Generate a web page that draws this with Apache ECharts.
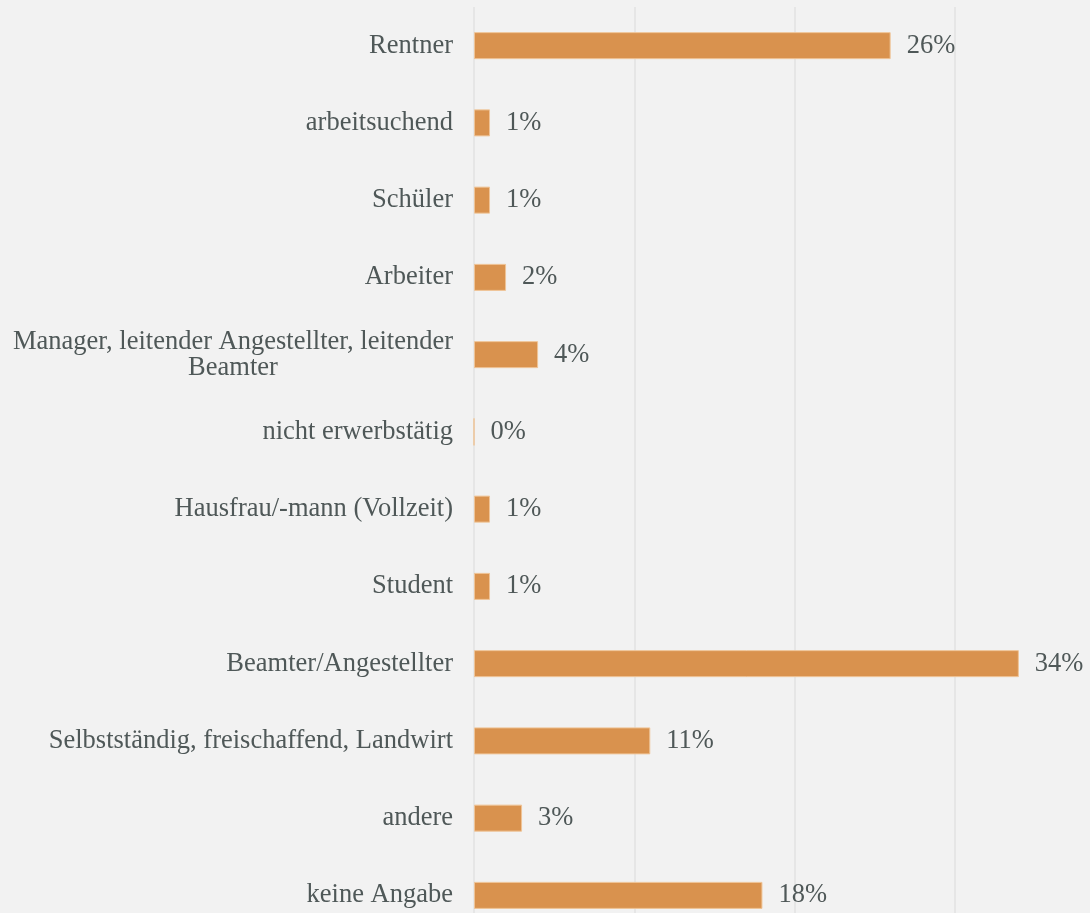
<!DOCTYPE html>
<html>
<head>
<meta charset="utf-8">
<script src="https://cdn.jsdelivr.net/npm/echarts@6/dist/echarts.min.js"></script>
<style>
  html, body { margin: 0; padding: 0; background: #f2f2f2; }
  #chart { width: 1090px; height: 913px; }
</style>
</head>
<body>
<div id="chart"></div>
<script>
// Occupational groups, top to bottom
const categories = [
  'Rentner',
  'arbeitsuchend',
  'Schüler',
  'Arbeiter',
  'Manager, leitender Angestellter, leitender\nBeamter',
  'nicht erwerbstätig',
  'Hausfrau/-mann (Vollzeit)',
  'Student',
  'Beamter/Angestellter',
  'Selbstständig, freischaffend, Landwirt',
  'andere',
  'keine Angabe'
];
// Share of respondents in percent
const shares = [26, 1, 1, 2, 4, 0, 1, 1, 34, 11, 3, 18];
const axisTicks = [0, 10, 20, 30, 40];

const textColor = '#4f5858';
const fontFamily = '"Liberation Serif", "DejaVu Serif", serif';
const fontSize = 26.5;

const chart = echarts.init(document.getElementById('chart'), null, { renderer: 'canvas' });
chart.setOption({
  backgroundColor: '#f2f2f2',
  animation: false,
  // plot area runs past the right and bottom edges of the canvas
  grid: {
    left: 474, top: 7, width: 641, height: 927,
    containLabel: false,
    outerBoundsMode: 'none'
  },
  xAxis: {
    type: 'value',
    min: axisTicks[0],
    max: axisTicks[axisTicks.length - 1],
    interval: 10,
    axisLine: { show: false },
    axisTick: { show: false },
    axisLabel: { show: false },
    splitLine: { show: true, lineStyle: { color: '#e2e2e2', width: 1.5 } }
  },
  yAxis: {
    type: 'category',
    inverse: true,
    data: categories,
    axisLine: { show: false },
    axisTick: { show: false },
    splitLine: { show: false },
    axisLabel: {
      margin: 21,
      color: textColor,
      fontFamily: fontFamily,
      fontSize: fontSize,
      lineHeight: 26,
      formatter: function (v) {
        const lines = v.split('\n');
        if (lines.length === 1) return v;
        return '{a|' + lines[0] + '}\n{b|' + lines[1] + '}';
      },
      rich: {
        a: { color: textColor, fontFamily: fontFamily, fontSize: fontSize, lineHeight: 26 },
        b: { color: textColor, fontFamily: fontFamily, fontSize: fontSize, lineHeight: 26, align: 'center' }
      }
    }
  },
  series: [{
    type: 'bar',
    data: shares,
    barWidth: 27,
    itemStyle: { color: '#d9924e', borderColor: '#efc497', borderWidth: 1 },
    label: {
      show: true,
      position: 'right',
      distance: 16,
      formatter: '{c}%',
      color: textColor,
      fontFamily: fontFamily,
      fontSize: fontSize
    }
  }]
});
</script>
</body>
</html>
